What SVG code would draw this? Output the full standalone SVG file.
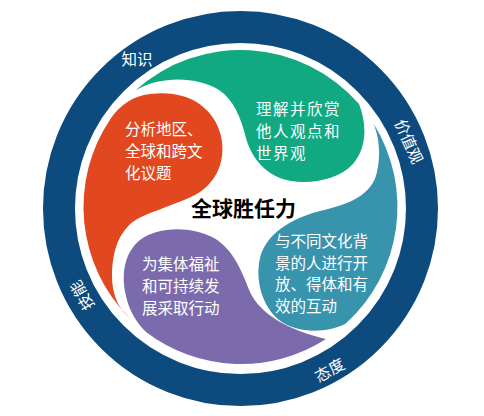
<svg xmlns="http://www.w3.org/2000/svg" width="484" height="416" viewBox="0 0 484 416">
<style>
.t{font-family:"Noto Sans CJK SC","Noto Sans",sans-serif;fill:#fff;font-size:15.5px;dominant-baseline:central}
.g{letter-spacing:1.5px}
.r{text-anchor:middle}
.c{font-family:"Noto Sans CJK SC","Noto Sans",sans-serif;fill:#000;font-size:21px;font-weight:bold;text-anchor:middle;dominant-baseline:central}
</style>
<rect width="484" height="416" fill="#fff"/>
<g id="ring">
<circle cx="240.5" cy="208.5" r="181.5" fill="none" stroke="#0D4A7D" stroke-width="32"/>
<text class="t r" x="137" y="58">知识</text>
<text class="t r" transform="translate(410,141) rotate(66)">价值观</text>
<text class="t r" transform="translate(329,369) rotate(-29)">态度</text>
<text class="t r" transform="translate(81,296) rotate(-120)">技能</text>
</g>
<g id="red">
<path fill="#E1481F" d="M129.5,318 A157,157 0 0 1 110.3,119.2 C120,105 133,96 150,94 C186,89 214,106 221,136 C227,163 214,186 193,196 C176,204 156,210 139,218 C120,228 112,250 112,276 C112,294 118,308 129.5,318 Z"/>
<text class="t" x="125" y="128">分析地区、</text>
<text class="t" x="125" y="150">全球和跨文</text>
<text class="t" x="125" y="172">化议题</text>
</g>
<g id="green">
<path fill="#10A981" d="M135.5,90.3 A157,157 0 0 1 359,104 C367,124 367,148 353,164 C338,180 312,184 291,181 C268,177 252,160 246,138 C241,118 234,100 219,90 C198,77 162,75 135.5,90.3 Z"/>
<text class="t g" x="256" y="108">理解并欣赏</text>
<text class="t g" x="256" y="130">他人观点和</text>
<text class="t g" x="256" y="152">世界观</text>
</g>
<g id="teal">
<path fill="#3893AD" d="M373.6,123.8 A157,157 0 0 1 345.5,323.7 C325,334 296,333 279,320 C262,306 255,280 260,258 C266,234 290,219 320,211 C350,204 372,195 377,172 C381,155 379,137 373.6,123.8 Z"/>
<text class="t" x="275" y="240">与不同文化背</text>
<text class="t" x="275" y="262">景的人进行开</text>
<text class="t" x="275" y="283">放、得体和有</text>
<text class="t" x="275" y="305">效的互动</text>
</g>
<g id="purple">
<path fill="#7B6BAD" d="M326,339 A157,157 0 0 1 146,332 C136,322 129,310 126,296 C121,275 124,253 140,240 C158,226 192,226 214,238 C234,250 242,272 250,292 C260,314 288,330 326,339 Z"/>
<text class="t" x="142" y="263">为集体福祉</text>
<text class="t" x="142" y="285">和可持续发</text>
<text class="t" x="142" y="307">展采取行动</text>
</g>
<g id="connectors"></g>
<g id="center">
<text class="c" x="243.5" y="207">全球胜任力</text>
</g>
</svg>
